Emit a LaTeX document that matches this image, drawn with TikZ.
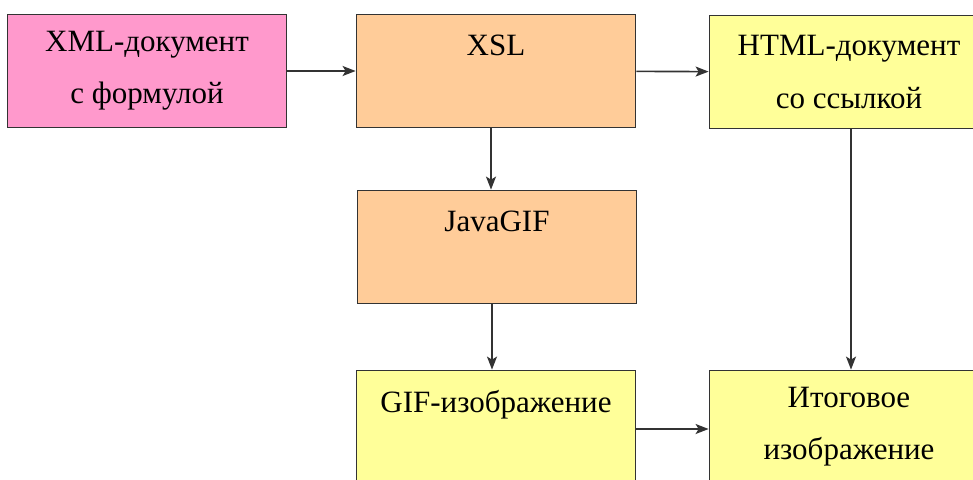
\documentclass[tikz,border=0pt]{standalone}
\usepackage{fontspec}
\setmainfont{Liberation Serif}
\usepackage{xcolor}
\usepackage{tikz}
\usetikzlibrary{calc}
\usetikzlibrary {arrows.meta}
\definecolor{boxpink}{HTML}{FF99CC}
\definecolor{boxorange}{HTML}{FFCC99}
\definecolor{boxyellow}{HTML}{FFFF99}
\definecolor{edge}{HTML}{333333}

\begin{document}
\begin{tikzpicture}[x=1pt,y=-1pt,>={Stealth[length=13pt,width=10pt,inset=3pt]}]
\tikzstyle{blk}=[draw=edge,line width=1.8pt,shape=rectangle,minimum width=279pt,minimum height=113pt,inner sep=0pt,align=center,font=\fontsize{31}{52}\selectfont]
\tikzstyle{lnk}=[draw=edge,line width=1.6pt]
%
\useasboundingbox (0,0) rectangle (973,479);
\clip (0,0) rectangle (973,479);
%
\node[blk,fill=boxpink](xml) at (147,71){XML-документ\\с формулой};
\node[blk,fill=boxorange](xsl) at (496,71){XSL\\\mbox{}};
\node[blk,fill=boxyellow](html) at (849,72){HTML-документ\\со ссылкой};
\node[blk,fill=boxorange](java) at (497,247){JavaGIF\\\mbox{}};
\node[blk,fill=boxyellow](gif) at (496,427){GIF-изображение\\\mbox{}};
\node[blk,fill=boxyellow](fin) at (849,427){Итоговое\\изображение};
%
\draw[lnk,->] (xml) -- (xsl);
\draw[lnk,->] (xsl) -- (html);
%
\draw[lnk,->] ([xshift=-5pt]xsl.south) -- ([xshift=-5pt]xsl.south |- java.north);
\draw[lnk,->] ([xshift=-5pt]java.south) -- ([xshift=-5pt]java.south |- gif.north);
\draw[lnk,->] ([xshift=2pt]html.south) -- ([xshift=2pt]html.south |- fin.north);
%
\draw[lnk,->] ([yshift=-2pt]gif.east) -- ([yshift=-2pt]fin.west);
\end{tikzpicture}
\end{document}
